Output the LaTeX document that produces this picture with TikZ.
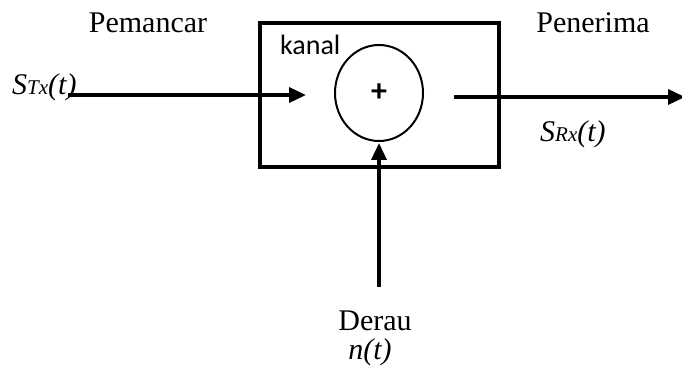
\documentclass[tikz,border=0pt]{standalone}
\usepackage{fontspec}
\setmainfont{Liberation Serif}
\newfontfamily\kanalfont{Carlito}
\usetikzlibrary{arrows.meta,shapes.geometric}
\tikzset{
  lbl/.style={inner sep=0pt, font=\fontsize{30}{30}\selectfont},
  sig/.style={line width=3.5pt, -{Triangle[length=17pt,width=15pt]}},
}
\newcommand{\subfs}[1]{{\fontsize{21}{21}\selectfont #1}}
\begin{document}
\begin{tikzpicture}[x=1pt,y=-1pt]
\useasboundingbox (0,0) rectangle (682,374);
\node[draw, line width=4pt, minimum width=239pt, minimum height=144pt, inner sep=0pt] (kanalbox) at (379.5,95) {};
\node[draw, ellipse, line width=2pt, minimum width=88pt, minimum height=96pt, inner sep=0pt] (sum) at (379,93) {};
\node[inner sep=0pt, font=\kanalfont\bfseries\fontsize{32}{32}\selectfont] (plus) at (379,93) {+};
\node[anchor=base west, inner sep=0pt, font=\kanalfont\fontsize{28}{28}\selectfont] (kanal) at (280,55) {kanal};
\node[lbl, anchor=base] (pemancar) at (148,33) {Pemancar};
\node[lbl, anchor=base] (penerima) at (593,33) {Penerima};
\node[lbl, anchor=base west] (stx) at (12,95) {\textit{S\subfs{Tx}(t)}};
\node[lbl, anchor=base west] (srx) at (540,142) {\textit{S\subfs{Rx}(t)}};
\node[lbl, anchor=base] (derau) at (375,330) {Derau};
\node[lbl, anchor=base] (nt) at (370,359) {\textit{n(t)}};
\coordinate (inp) at (68,95);
\coordinate (outp) at (685,97);
\coordinate (noise) at (379,287);
\path (sum.east |- outp) ++(30,0) coordinate (outstart);
\draw[sig, shorten >=28pt] (inp) -- (inp -| sum.west);
\draw[sig] (outstart) -- (outp);
\draw[sig, shorten >=1pt] (noise) -- (sum.south);
\end{tikzpicture}
\end{document}
